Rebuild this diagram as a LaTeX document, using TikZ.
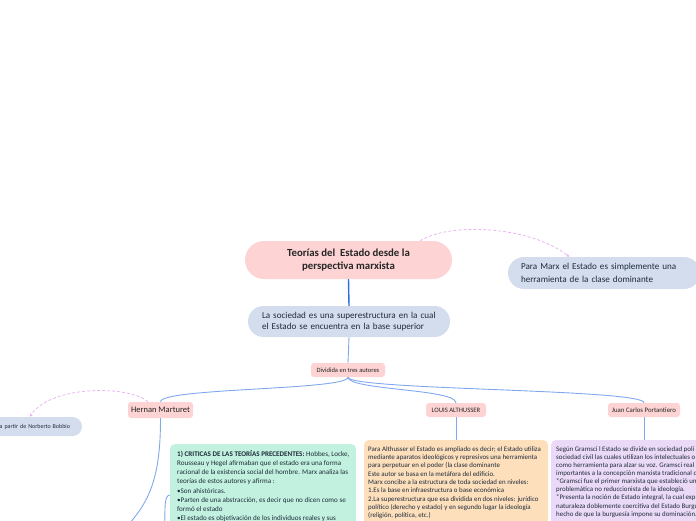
\documentclass[tikz,border=0pt]{standalone}
\usepackage{fontspec}
\setmainfont{Carlito}
\usetikzlibrary{arrows.meta}
\definecolor{pinkfill}{HTML}{FDD3D4}
\definecolor{bluefill}{HTML}{D3DDEE}
\definecolor{greenfill}{HTML}{C2F2DF}
\definecolor{orangefill}{HTML}{FDDFBC}
\definecolor{purplefill}{HTML}{EBDAF7}
\definecolor{connc}{HTML}{7FA8EE}
\definecolor{mainconn}{HTML}{2F6FDB}
\definecolor{relcol}{HTML}{E9B5F3}
\definecolor{txt}{HTML}{1E2B3A}
\begin{document}
\begin{tikzpicture}[x=1pt,y=-1pt,
  base/.style={draw=none,text=txt,inner sep=0pt},
  topic/.style={base,fill=pinkfill,align=center,minimum width=207pt,minimum height=38pt,rounded corners=19pt,
     font=\fontsize{10.8}{12.7}\selectfont\bfseries,text=black!85},
  bluepill/.style={base,fill=bluefill,align=left,rounded corners=15.5pt},
  tag/.style={base,fill=pinkfill,rounded corners=3pt,text=black!85},
  box/.style={base,rounded corners=5pt},
  boxtext/.style={inner sep=0pt,align=left,anchor=north west,text=txt},
  conn/.style={draw=connc,line width=0.9pt},
  mainline/.style={draw=mainconn,line width=1.4pt},
  rel/.style={draw=relcol,line width=0.8pt,dash pattern=on 3pt off 2pt,-{Stealth[length=3.5pt,width=3.5pt]}}
]
\clip (0,0) rectangle (696,520);
\useasboundingbox (0,0) rectangle (696,520);

% nodes
\node[topic] (title) at (348.5,260) {Teorías del~ Estado desde la\\perspectiva marxista};
\node[bluepill,minimum width=202pt,minimum height=31pt,text width=174pt,
      font=\fontsize{9.1}{10.5}\selectfont] (soc) at (349,321.5)
      {La sociedad es una superestructura en la cual\\el Estado se encuentra en la base superior};
\node[bluepill,minimum width=192pt,minimum height=32pt,rounded corners=16pt,text width=166pt,
      font=\fontsize{9.1}{12.3}\selectfont] (paramarx) at (604,273)
      {Para Marx el Estado es simplemente una\\herramienta de la clase dominante};
\node[tag,minimum width=74pt,minimum height=14pt,font=\fontsize{6.5}{7}\selectfont] (divid) at (348,370) {Dividida en tres autores};
\node[tag,minimum width=65pt,minimum height=16pt,font=\fontsize{8.5}{10}\selectfont] (hernan) at (160.5,410) {Hernan Marturet};
\node[tag,minimum width=60pt,minimum height=14pt,font=\fontsize{6.7}{7}\selectfont] (louis) at (456,410) {LOUIS ALTHUSSER};
\node[tag,minimum width=72pt,minimum height=14pt,font=\fontsize{6.8}{7}\selectfont] (juan) at (644,410) {Juan Carlos Portantiero};
\node[bluepill,minimum width=182pt,minimum height=19pt,rounded corners=9.5pt,text width=158pt,align=right,
      font=\fontsize{6}{7}\selectfont] (bobbio) at (-9,426.5) {s a partir de Norberto Bobbio};

\node[box,fill=greenfill,minimum width=186pt,minimum height=102pt] (green) at (263,495) {};
\node[box,fill=orangefill,minimum width=184pt,minimum height=100pt] (orange) at (456,490) {};
\node[box,fill=purplefill,minimum width=190pt,minimum height=100pt] (purple) at (646,490) {};

\node[boxtext,font=\fontsize{7.1}{9.25}\selectfont] (greentext) at (177,450)
{\textbf{1) CRITICAS DE LAS TEORÍAS PRECEDENTES:} Hobbes, Locke,\\
Rousseau y Hegel afirmaban que el estado era una forma\\
racional de la existencia social del hombre. Marx analiza las\\
teorías de estos autores y afirma :\\
•Son ahistóricas.\\
•Parten de una abstracción, es decir que no dicen como se\\
formó el estado\\
•El estado es objetivación de los individuos reales y sus\\
instituciones};

\node[boxtext,font=\fontsize{6.9}{8.35}\selectfont] (orangetext) at (368,446)
{Para Althusser el Estado es ampliado es decir; el Estado utiliza\\
mediante aparatos ideológicos y represivos una herramienta\\
para perpetuar en el poder (la clase dominante\\
Este autor se basa en la metáfora del edificio.\\
Marx concibe a la estructura de toda sociedad en niveles:\\
1.Es la base en infraestructura o base económica\\
2.La superestructura que esa dividida en dos niveles: jurídico\\
político (derecho y estado) y en segundo lugar la ideología\\
(religión, política, etc.)};

\node[boxtext,font=\fontsize{6.9}{8.15}\selectfont] (purpletext) at (556,446)
{Según Gramsci l Estado se divide en sociedad polí\\
sociedad civil las cuales utilizan los intelectuales o\\
como herramienta para alzar su voz. Gramsci real\\
importantes a la concepción marxista tradicional d\\
*Gramsci fue el primer marxista que estableció un\\
problemática no reduccionista de la ideología.\\
*Presenta la noción de Estado integral, la cual exp\\
naturaleza doblemente coercitiva del Estado Burgu\\
hecho de que la burguesía impone su dominación.};

% connectors
\draw[mainline] (title.south) -- (soc.north);
\draw[conn] (soc.south) -- (divid.north);
\draw[conn] (divid.south) .. controls +(0,13) and +(0,-14) .. (hernan.north);
\draw[conn] (divid.south) .. controls +(0,13) and +(0,-14) .. (louis.north);
\draw[conn] (divid.south) .. controls +(0,13) and +(0,-14) .. (juan.north);
\draw[conn] (louis.south) -- (louis.south |- orange.north);
\draw[conn] (juan.south) -- (juan.south |- purple.north);
\coordinate (hdown) at (118,535);
\coordinate (gup) at (164,540);
\draw[conn] (hernan.south) .. controls +(0,60) and (150,505) .. (hdown);
\draw[conn] (gup) .. controls (166,510) and (163,496) .. (green.west);

% relations
\draw[rel] (title.15) .. controls (450,222) and (530,226) .. (paramarx.155);
\draw[rel] (hernan.147) .. controls (130,385) and (50,385) .. (bobbio.14);
\end{tikzpicture}
\end{document}
